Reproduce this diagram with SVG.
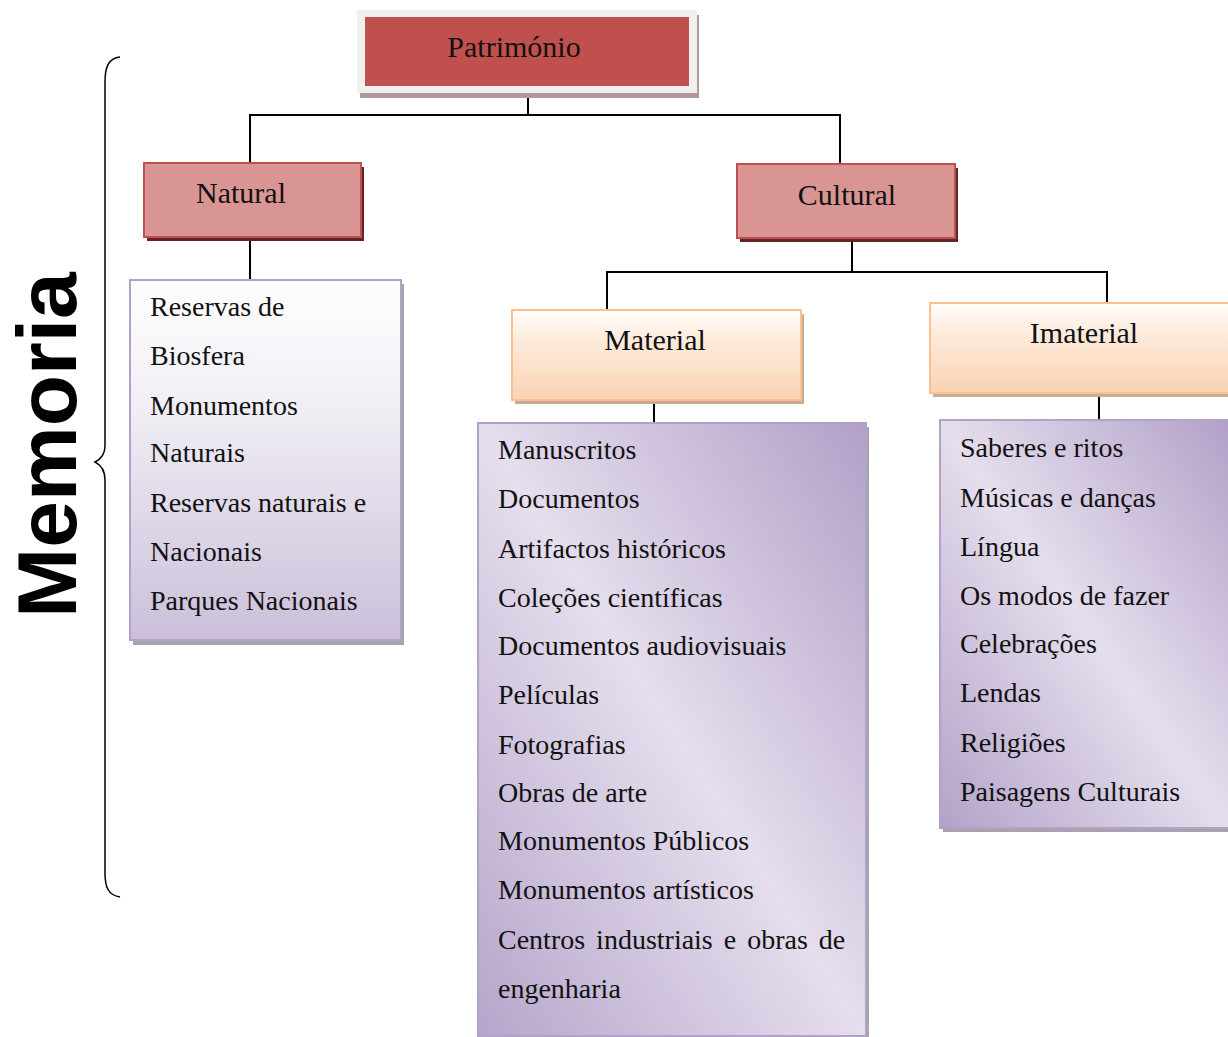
<svg xmlns="http://www.w3.org/2000/svg" width="1228" height="1037" viewBox="0 0 1228 1037">
<defs>
<linearGradient id="gNat" x1="0" y1="0" x2="0" y2="1">
<stop offset="0" stop-color="#fefefe"/><stop offset="0.35" stop-color="#f1eef5"/><stop offset="1" stop-color="#cbbfda"/>
</linearGradient>
<linearGradient id="gOr" x1="0" y1="0" x2="0" y2="1">
<stop offset="0" stop-color="#fffdfb"/><stop offset="0.35" stop-color="#fdeadb"/><stop offset="1" stop-color="#fad3b3"/>
</linearGradient>
<linearGradient id="gLav" x1="0" y1="1" x2="1" y2="0">
<stop offset="0" stop-color="#b6a5cb"/><stop offset="0.5" stop-color="#e5deed"/><stop offset="1" stop-color="#b2a0c8"/>
</linearGradient>
<linearGradient id="gLav2" x1="0" y1="1" x2="1" y2="0">
<stop offset="0" stop-color="#b3a2c8"/><stop offset="0.5" stop-color="#e5deed"/><stop offset="1" stop-color="#b2a0c8"/>
</linearGradient>
</defs>
<style>
text{font-family:"Liberation Serif","Times New Roman",serif;fill:#111}
.h{font-size:30px;text-anchor:middle}
.it{font-size:28px}
.red{fill:#d99594;stroke:#c0504d;stroke-width:2}
.redsh{fill:#632523}
.or{fill:url(#gOr);stroke:#fac08f;stroke-width:2}
.orsh{fill:#c9ab93}
.lav{stroke:#b3a2c7;stroke-width:2}
.sh{fill:#a7a3ad}
.conn{stroke:#000;stroke-width:2;fill:none}
</style>
<g id="connectors">
<path class="conn" d="M528,96 V115 M250,115 H841 M250,114 V163 M840,114 V164"/>
<path class="conn" d="M250,240 V280"/>
<path class="conn" d="M852,241 V272 M607,272 H1107 M607,271 V310 M1107,271 V303"/>
<path class="conn" d="M654,395 V423"/>
<path class="conn" d="M1099,395 V420"/>
</g>
<g id="memoria">
<path d="M120,57 C108,58 105,68 105,82 L105,446 C105,455 101,459 95,462 C101,465 105,470 105,480 L105,873 C105,887 108,895 120,897" fill="none" stroke="#000" stroke-width="1.5"/>
<text transform="translate(76,445) rotate(-90)" style="font-family:'Liberation Sans',Arial,sans-serif;font-weight:bold;font-size:84px;text-anchor:middle;fill:#000">Memoria</text>
</g>
<g id="patrimonio">
<rect x="360" y="15" width="339" height="83" fill="#b09898"/>
<rect x="357" y="10" width="340" height="83" fill="#f0f0f0"/>
<rect x="365" y="17" width="324" height="69" fill="#c0504d"/>
<text class="h" x="514" y="57">Património</text>
</g>
<g id="natural">
<rect class="redsh" x="147" y="167" width="217" height="74"/>
<rect class="red" x="144" y="163" width="217" height="74"/>
<text class="h" x="241" y="203">Natural</text>
</g>
<g id="cultural">
<rect class="redsh" x="740" y="168" width="218" height="74"/>
<rect class="red" x="737" y="164" width="218" height="74"/>
<text class="h" x="847" y="205">Cultural</text>
</g>
<g id="natural-list">
<rect class="sh" x="133" y="284" width="271" height="361"/>
<rect class="lav" x="130" y="280" width="271" height="360" fill="url(#gNat)"/>
<text class="it" x="150" y="316">Reservas de</text>
<text class="it" x="150" y="365">Biosfera</text>
<text class="it" x="150" y="415">Monumentos</text>
<text class="it" x="150" y="462">Naturais</text>
<text class="it" x="150" y="512">Reservas naturais e</text>
<text class="it" x="150" y="561">Nacionais</text>
<text class="it" x="150" y="610">Parques Nacionais</text>
</g>
<g id="material">
<rect class="orsh" x="515" y="314" width="289" height="90"/>
<rect class="or" x="512" y="310" width="289" height="90"/>
<text class="h" x="655" y="350">Material</text>
</g>
<g id="imaterial">
<rect class="orsh" x="933" y="307" width="300" height="90"/>
<rect class="or" x="930" y="303" width="300" height="90"/>
<text class="h" x="1084" y="343">Imaterial</text>
</g>
<g id="material-list">
<rect class="sh" x="481" y="427" width="388" height="615"/>
<rect class="lav" x="478" y="423" width="388" height="613" fill="url(#gLav)" stroke="#a999c3"/>
<text class="it" x="498" y="459">Manuscritos</text>
<text class="it" x="498" y="508">Documentos</text>
<text class="it" x="498" y="558">Artifactos históricos</text>
<text class="it" x="498" y="607">Coleções científicas</text>
<text class="it" x="498" y="655">Documentos audiovisuais</text>
<text class="it" x="498" y="704">Películas</text>
<text class="it" x="498" y="754">Fotografias</text>
<text class="it" x="498" y="802">Obras de arte</text>
<text class="it" x="498" y="850">Monumentos Públicos</text>
<text class="it" x="498" y="899">Monumentos artísticos</text>
<text class="it" x="498" y="949" style="word-spacing:4px">Centros industriais e obras de</text>
<text class="it" x="498" y="998">engenharia</text>
</g>
<g id="imaterial-list">
<rect class="sh" x="943" y="424" width="290" height="408"/>
<rect class="lav" x="940" y="420" width="290" height="408" fill="url(#gLav2)" stroke="#a999c3"/>
<text class="it" x="960" y="457">Saberes e ritos</text>
<text class="it" x="960" y="507">Músicas e danças</text>
<text class="it" x="960" y="556">Língua</text>
<text class="it" x="960" y="605">Os modos de fazer</text>
<text class="it" x="960" y="653">Celebrações</text>
<text class="it" x="960" y="702">Lendas</text>
<text class="it" x="960" y="752">Religiões</text>
<text class="it" x="960" y="801">Paisagens Culturais</text>
</g>
</svg>
